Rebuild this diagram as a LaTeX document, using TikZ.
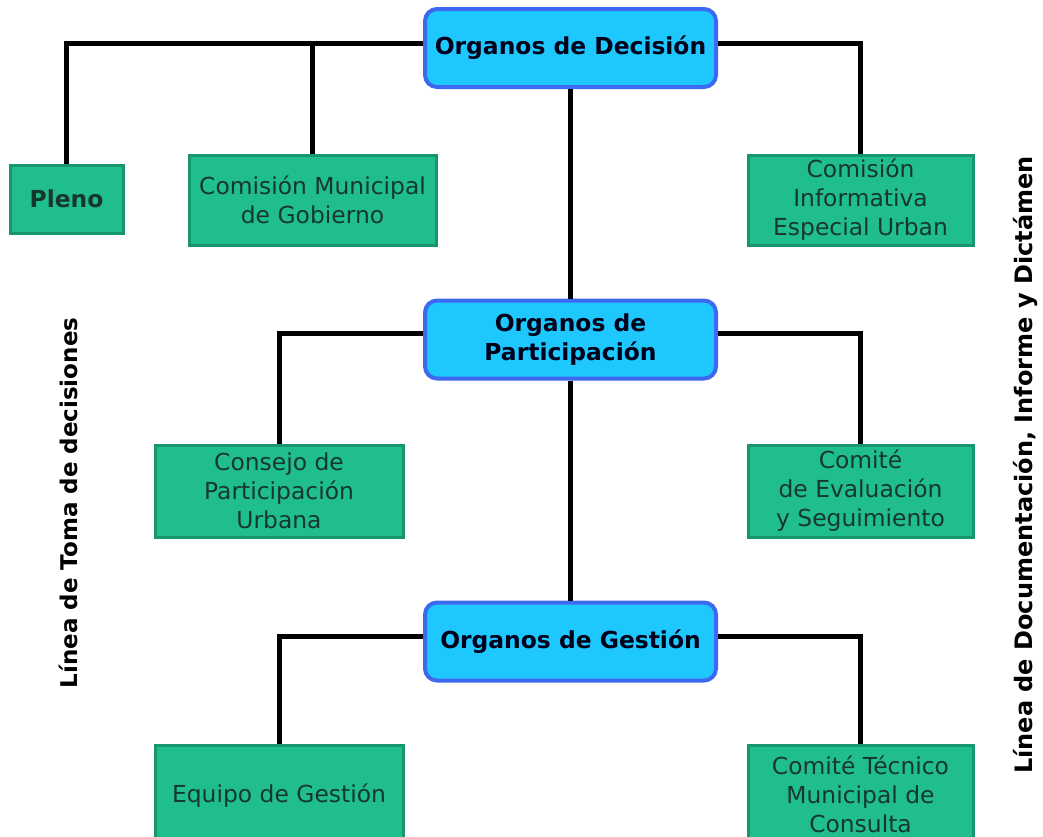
\documentclass[tikz,border=0pt]{standalone}
\usepackage{fontspec}
\setmainfont{DejaVu Sans}
\usepackage{tikz}
\usetikzlibrary{positioning, calc}

\definecolor{organfill}{RGB}{30,200,255}
\definecolor{organline}{RGB}{60,105,240}
\definecolor{unitfill}{RGB}{32,190,142}
\definecolor{unitline}{RGB}{24,150,112}
\definecolor{unittext}{RGB}{22,56,44}

\begin{document}
\begin{tikzpicture}[x=1pt, y=-1pt,
    organ/.style={draw=organline, fill=organfill, line width=4pt, rounded corners=12pt,
      minimum width=291pt, minimum height=78pt, align=center, inner sep=0pt,
      font=\fontsize{23.4}{29}\selectfont\bfseries, text=black!90!blue},
    unit/.style={draw=unitline, fill=unitfill, line width=3pt, align=center, inner sep=0pt,
      font=\fontsize{23.4}{29}\selectfont, text=unittext},
    link/.style={line width=5pt, black},
    side/.style={rotate=90, font=\fontsize{23}{29}\selectfont\bfseries}]
  \useasboundingbox[fill=white] (0,0) rectangle (1043,836);

  % Decision level
  \node[organ] (dec) at (570.5,48) {Organos de Decisión};
  \node[unit, minimum width=113pt, minimum height=68pt, font=\fontsize{23.4}{29}\selectfont\bfseries]
    (pleno) at (66.5,199) {Pleno};
  \node[unit, minimum width=247pt, minimum height=90pt] (cmg) at (312.5,200)
    {Comisión Municipal\\de Gobierno};
  \node[unit, minimum width=225pt, minimum height=90pt] (cie) at (860.5,200)
    {Comisión\\Informativa\\Especial Urban};

  % Participation level
  \node[organ] (par) at (570.5,339.5) {Organos de\\Participación};
  \node[unit, minimum width=248pt, minimum height=92pt] (cpu) at (279,491)
    {Consejo de\\Participación\\Urbana};
  \node[unit, minimum width=225pt, minimum height=92pt] (ces) at (860.5,491)
    {Comité\\de Evaluación\\y Seguimiento};

  % Management level
  \node[organ] (ges) at (570.5,641.5) {Organos de Gestión};
  \node[unit, minimum width=248pt, minimum height=102pt] (eqg) at (279,796)
    {Equipo de Gestión};
  \node[unit, minimum width=225pt, minimum height=98pt] (ctm) at (860.5,794)
    {Comité Técnico\\Municipal de\\Consulta};

  % tree lines
  \coordinate (decL) at ([yshift=5pt]dec.west);
  \coordinate (parL) at ([yshift=6pt]par.west);
  \coordinate (gesL) at ([yshift=5pt]ges.west);
  \draw[link] (pleno.north) |- (decL);
  \draw[link] (cmg.north) -- (cmg.north |- decL);
  \draw[link] (cie.north) |- ([yshift=5pt]dec.east);
  \draw[link] (dec.south) -- (par.north);
  \draw[link] (cpu.north) |- (parL);
  \draw[link] (ces.north) |- ([yshift=6pt]par.east);
  \draw[link] (par.south) -- (ges.north);
  \draw[link] (eqg.north) |- (gesL);
  \draw[link] (ctm.north) |- ([yshift=5pt]ges.east);

  % side labels
  \node[side] (toma) at (68,503) {Línea de Toma de decisiones};
  \node[side, font=\fontsize{24}{29}\selectfont\bfseries] (docu) at (1025,465)
    {Línea de Documentación, Informe y Dictámen};
\end{tikzpicture}
\end{document}
